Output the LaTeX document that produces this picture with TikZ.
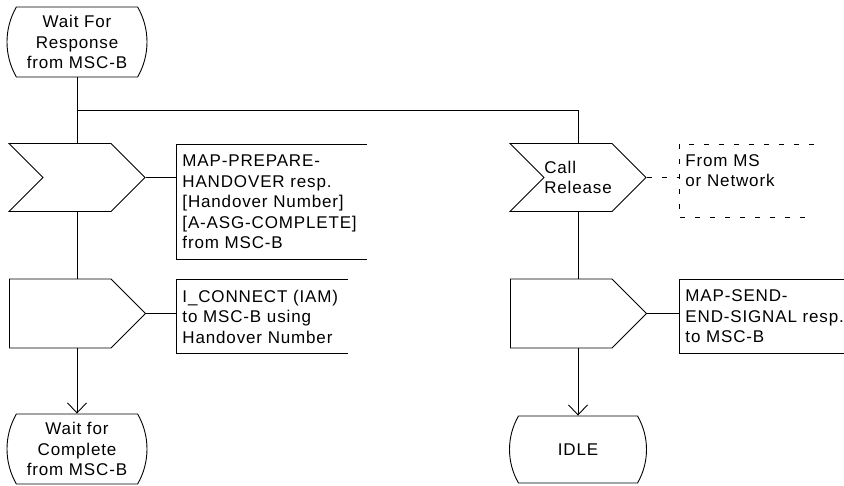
\documentclass[tikz,border=0pt]{standalone}
\usepackage{fontspec}
\setmainfont[LetterSpace=5]{Liberation Sans}
\usetikzlibrary{shapes.symbols, shapes.misc, arrows.meta}

\tikzset{
  sdlstate/.style={draw, rounded rectangle, rounded rectangle arc length=60,
    minimum width=137, minimum height=70, inner sep=0, align=center},
  sdlinput/.style={draw, signal, signal from=west, signal pointer angle=90,
    minimum width=136, minimum height=68, inner sep=0, align=left},
  sdloutput/.style={draw, signal, signal to=east, signal pointer angle=90,
    minimum width=136, minimum height=69, inner sep=0, anchor=west},
  sdlnote/.style={anchor=north west, inner xsep=6, inner ysep=0, align=left},
  notedash/.style={dash pattern=on 5pt off 10pt},
}

\begin{document}
\begin{tikzpicture}[x=1pt, y=-1pt, line width=0.9pt,
    >={Straight Barb[length=10pt,width=19pt]},
    every node/.style={font=\fontsize{17}{20.5}\selectfont}]
    \useasboundingbox (0,0) rectangle (844,486);

    % states
    \node[sdlstate] (waitresp) at (77,42) {Wait For\\Response\\from MSC-B};
    \node[sdlstate] (waitcomp) at (77,449) {Wait for\\Complete\\from MSC-B};
    \node[sdlstate, minimum height=67] (idle) at (578,449.5) {IDLE};

    % inputs and outputs
    \node[sdlinput] (prepin) at (77,177.5) {};
    \node[sdloutput] (connout) at (9,313.5) {};
    \node[sdlinput] (relin) at (578,177.5) {Call\\Release};
    \node[sdloutput] (sendout) at (510,313.5) {};

    % comments
    \node[sdlnote, text width=178, minimum height=115] (prepnote) at (176,144)
        {MAP-PREPARE-\\HANDOVER resp.\\{}[Handover Number]\\{}[A-ASG-COMPLETE]\\from MSC-B};
    \node[sdlnote, text width=159, minimum height=74] (connnote) at (176,279)
        {I\_CONNECT (IAM)\\to MSC-B using\\Handover Number};
    \node[sdlnote, text width=122, minimum height=73] (fromnote) at (679,144)
        {From MS\\or Network\\~};
    \node[sdlnote, text width=180, minimum height=74] (sendnote) at (679,279)
        {MAP-SEND-\\END-SIGNAL resp.\\to MSC-B};

    \foreach \n in {prepnote, connnote, sendnote}
        \draw (\n.north east) -- (\n.north west) -- (\n.south west) -- (\n.south east);
    \draw[notedash] (fromnote.north east) -- (fromnote.north west)
        -- (fromnote.south west) -- (fromnote.south east);

    % flow lines
    \coordinate (split) at (77,110);
    \draw (waitresp.south) -- (prepin.north);
    \draw (split) -| (relin.north);
    \draw (prepin.south) -- (prepin.south |- connout.north);
    \draw[->] (waitcomp.north |- connout.south) -- (waitcomp.north);
    \draw (relin.south) -- (relin.south |- sendout.north);
    \draw[->] (idle.north |- sendout.south) -- (idle.north);

    % links to comments
    \draw (prepin.east) -- (prepin.east -| prepnote.west);
    \draw (connout.east) -- (connout.east -| connnote.west);
    \draw (sendout.east) -- (sendout.east -| sendnote.west);
    \draw[notedash] (relin.east) -- (relin.east -| fromnote.west);
\end{tikzpicture}
\end{document}
